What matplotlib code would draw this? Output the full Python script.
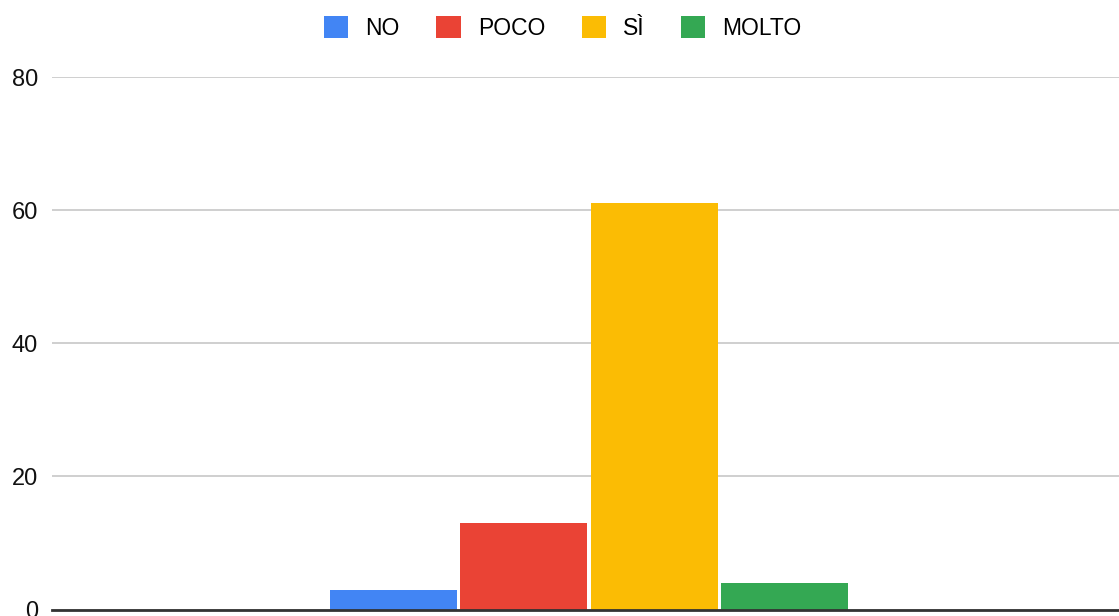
import matplotlib.pyplot as plt
from matplotlib.patches import Patch

plt.rcParams['font.family'] = ['Liberation Sans', 'DejaVu Sans']

# data
categories = ['NO', 'POCO', 'SÌ', 'MOLTO']
values = [3, 13, 61, 4]
colors = ['#4285F4', '#EA4335', '#FBBC04', '#34A853']
yticks = [0, 20, 40, 60, 80]

fig = plt.figure(figsize=(11.19, 6.16), dpi=100)
ax = fig.add_axes([52 / 1119, 6.5 / 616, 1 - 52 / 1119, 532.5 / 616])

x = list(range(len(categories)))
ax.bar(x, values, width=0.975, color=colors, zorder=3)

ax.set_ylim(0, 80)
ax.set_xlim(-2.621, 5.568)
ax.set_yticks(yticks)
ax.set_yticklabels([str(v) for v in yticks], fontsize=17, color='#111111')
ax.set_xticks([])
ax.tick_params(axis='y', length=0, pad=10)
ax.grid(axis='y', color='#cccccc', linewidth=1.3, zorder=0)
for s in ['top', 'right', 'left']:
    ax.spines[s].set_visible(False)
ax.spines['bottom'].set_color('#333333')
ax.spines['bottom'].set_linewidth(2)
ax.spines['bottom'].set_zorder(4)

handles = [Patch(facecolor=c, edgecolor='none', label=l) for c, l in zip(colors, categories)]
fig.legend(handles=handles, loc='center', bbox_to_anchor=(563 / 1119, 1 - 28 / 616),
           ncol=4, frameon=False, fontsize=16.5, handlelength=1.05, handleheight=1.05,
           handletextpad=0.75, columnspacing=1.6)

fig.savefig('out.png', dpi=100)
